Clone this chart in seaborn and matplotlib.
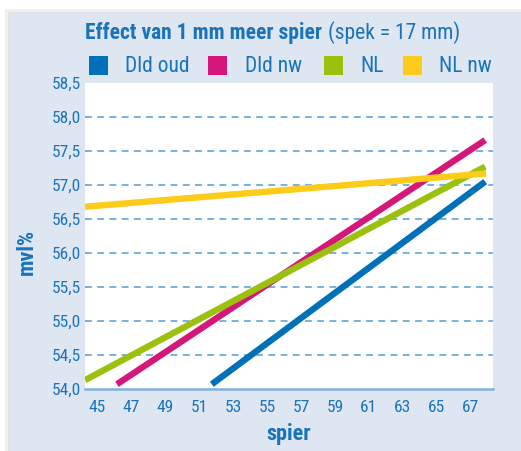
import matplotlib
matplotlib.use("Agg")
import matplotlib.pyplot as plt
import matplotlib.patches as mpatches
import seaborn as sns
import pandas as pd

series = ["Dld oud", "Dld nw", "NL", "NL nw"]
colors = ["#0070b8", "#d6177a", "#9bc10e", "#fdcc1a"]
x_start = [51.76, 46.18, 44.30, 44.30]
x_end = [67.84, 67.84, 67.84, 67.90]
y_start = [54.07, 54.07, 54.13, 56.68]
y_end = [57.05, 57.66, 57.27, 57.17]
x_ticks = [45, 47, 49, 51, 53, 55, 57, 59, 61, 63, 65, 67]
y_ticks = [54.0, 54.5, 55.0, 55.5, 56.0, 56.5, 57.0, 57.5, 58.0, 58.5]
y_labels = ["54,0", "54,5", "55,0", "55,5", "56,0", "56,5", "57,0", "57,5", "58,0", "58,5"]

rows = []
for s, xs, xe, ys, ye in zip(series, x_start, x_end, y_start, y_end):
    rows.append({"serie": s, "spier": xs, "mvl": ys})
    rows.append({"serie": s, "spier": xe, "mvl": ye})
df = pd.DataFrame(rows)

sns.set_theme(style="white")
plt.rcParams["font.family"] = ["Roboto Condensed", "Archivo Narrow", "DejaVu Sans"]

txt = "#1a74bb"
bg = "#dee6f2"
grid = "#4f9dd9"
W, H = 521, 451

fig = plt.figure(figsize=(W / 100, H / 100), dpi=100)
fig.patch.set_facecolor("white")
# shadow + panel
fig.patches.append(mpatches.Rectangle((5 / W, 0), 1, 1 - 9 / H, transform=fig.transFigure,
                                      facecolor="#f0f0f0", edgecolor="none", zorder=-3))
fig.patches.append(mpatches.Rectangle((8 / W, 0), 1, 1 - 12 / H, transform=fig.transFigure,
                                      facecolor="#e2e2e2", edgecolor="none", zorder=-2))
fig.patches.append(mpatches.Rectangle((10 / W, 0), 1, 1 - 14 / H, transform=fig.transFigure,
                                      facecolor=bg, edgecolor="none", zorder=-1))

ax = fig.add_axes([85 / W, 1 - 389 / H, (493 - 85) / W, (389 - 83) / H])
ax.set_facecolor("white")

sns.lineplot(data=df, x="spier", y="mvl", hue="serie", hue_order=series,
             palette=colors, linewidth=4.6, legend=False, ax=ax,
             solid_capstyle="butt", estimator=None, sort=False)

ax.set_xlim(44.3, 68.3)
ax.set_ylim(54.0, 58.5)
ax.set_xticks(x_ticks)
ax.set_xticklabels([str(t) for t in x_ticks])
ax.set_yticks(y_ticks)
ax.set_yticklabels(y_labels)

for v in y_ticks[1:-1]:
    ax.axhline(v, color=grid, lw=1.1, ls=(0, (4.5, 3.5)), zorder=0.5)

for sp in ["top", "right", "left"]:
    ax.spines[sp].set_visible(False)
ax.spines["bottom"].set_color("#7fb3de")
ax.spines["bottom"].set_linewidth(1.8)

ax.tick_params(axis="x", direction="in", length=5, width=1.2, color="#7fb3de",
               labelsize=12.5, labelcolor=txt, pad=8)
ax.tick_params(axis="y", length=0, labelsize=12.5, labelcolor=txt, pad=3)

ax.set_xlabel("spier", fontsize=16, fontweight="bold", color=txt, labelpad=6)
ax.set_ylabel("mvl%", fontsize=16, fontweight="bold", color=txt)
ax.yaxis.set_label_coords((38 - 85) / 408, (389 - 252) / 306)

# title
fig.text(322 / W, 1 - 33 / H, "Effect van 1 mm meer spier", ha="right", va="center",
         fontsize=15.5, fontweight="bold", color=txt)
fig.text(328 / W, 1 - 33 / H, "(spek = 17 mm)", ha="left", va="center",
         fontsize=15.5, color=txt)

# legend
sq_x = [89, 208, 324, 403]
lab_x = [125, 245, 360, 439]
for s, c, sx, lx in zip(series, colors, sq_x, lab_x):
    fig.patches.append(mpatches.Rectangle((sx / W, 1 - 75 / H), 19 / W, 19 / H,
                                          transform=fig.transFigure, facecolor=c,
                                          edgecolor="none", zorder=3))
    fig.text(lx / W, 1 - 66.5 / H, s, ha="left", va="center", fontsize=15.5, color=txt)

fig.savefig("out.png", dpi=100, facecolor=fig.get_facecolor())
